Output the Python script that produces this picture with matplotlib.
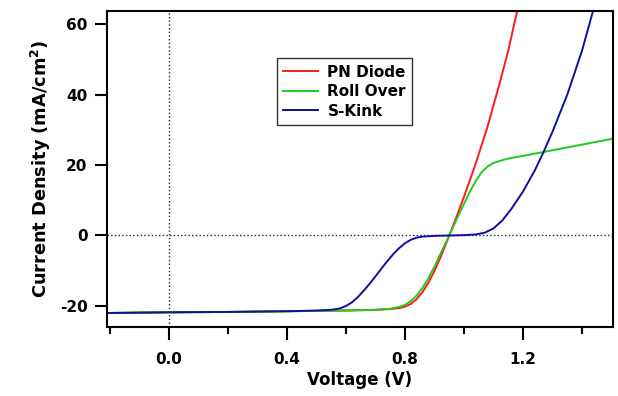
import numpy as np
import matplotlib.pyplot as plt
from matplotlib.ticker import MultipleLocator

plt.rcParams['font.family'] = ['DejaVu Sans']
plt.rcParams['font.weight'] = 'bold'
plt.rcParams['axes.unicode_minus'] = False

# J-V curves (V in volts, J in mA/cm^2)
pn_v = [-0.21, 0.0, 0.2, 0.4, 0.6, 0.7, 0.75, 0.78, 0.80, 0.82, 0.84, 0.86, 0.88,
        0.90, 0.92, 0.95, 0.98, 1.00, 1.04, 1.08, 1.12, 1.15, 1.18]
pn_j = [-22.0, -21.8, -21.7, -21.5, -21.3, -21.1, -20.9, -20.6, -20.2, -19.4, -18.0, -16.0, -13.3,
        -10.0, -6.3, 0.0, 6.5, 11.0, 20.5, 31.0, 43.0, 52.5, 63.7]

ro_v = [-0.21, 0.0, 0.2, 0.4, 0.6, 0.7, 0.75, 0.78, 0.80, 0.82, 0.84, 0.86, 0.88,
        0.90, 0.92, 0.95, 0.98, 1.00, 1.02, 1.04, 1.06, 1.08, 1.10, 1.13, 1.16,
        1.20, 1.30, 1.40, 1.505]
ro_j = [-22.0, -21.8, -21.7, -21.5, -21.3, -21.1, -20.8, -20.3, -19.7, -18.6, -17.0, -14.8, -12.0,
        -8.8, -5.2, 0.0, 5.5, 9.0, 12.5, 15.5, 18.0, 19.6, 20.6, 21.4, 22.0,
        22.6, 24.2, 25.8, 27.5]

sk_v = [-0.21, 0.0, 0.2, 0.4, 0.5, 0.55, 0.58, 0.60, 0.62, 0.64, 0.66, 0.68, 0.70,
        0.72, 0.74, 0.76, 0.78, 0.80, 0.82, 0.84, 0.86, 0.90, 0.95, 1.00, 1.04,
        1.07, 1.10, 1.13, 1.16, 1.20, 1.24, 1.27, 1.30, 1.35, 1.40, 1.437]
sk_j = [-22.0, -21.8, -21.7, -21.5, -21.3, -21.1, -20.7, -20.0, -19.0, -17.5, -15.7, -13.7, -11.6,
        -9.4, -7.3, -5.3, -3.6, -2.2, -1.2, -0.6, -0.3, -0.1, 0.0, 0.1, 0.3,
        0.8, 2.0, 4.3, 7.5, 12.5, 18.5, 23.8, 29.5, 40.0, 52.5, 63.7]

fig = plt.figure(figsize=(6.18, 3.96), dpi=100)
ax = fig.add_axes([0.173, 0.174, 0.819, 0.798])

ax.axvline(0, color='#222222', linestyle=':', linewidth=1)
ax.axhline(0, color='#222222', linestyle=':', linewidth=1)

ax.plot(pn_v, pn_j, color='#ff1a1a', linewidth=1.4, label='PN Diode')
ax.plot(ro_v, ro_j, color='#1ecc1e', linewidth=1.4, label='Roll Over')
ax.plot(sk_v, sk_j, color='#10109a', linewidth=1.4, label='S-Kink')

ax.set_xlim(-0.21, 1.505)
ax.set_ylim(-26, 63.7)
ax.xaxis.set_major_locator(MultipleLocator(0.4))
ax.xaxis.set_minor_locator(MultipleLocator(0.2))
ax.yaxis.set_major_locator(MultipleLocator(20))
ax.xaxis.set_major_formatter(plt.FormatStrFormatter('%.1f'))

for s in ax.spines.values():
    s.set_linewidth(1.5)
ax.tick_params(which='major', direction='out', length=9, width=1.5, labelsize=11)
ax.tick_params(axis='x', which='major', pad=9)
ax.tick_params(axis='y', which='major', pad=5)
ax.tick_params(which='minor', direction='out', length=5, width=1.5)

ax.set_xlabel('Voltage (V)', fontsize=12, fontweight='bold', labelpad=3)
ax.set_ylabel('Current Density (mA/cm$^\\mathbf{2}$)', fontsize=12.8, fontweight='bold', labelpad=5)

leg = ax.legend(loc='upper left', bbox_to_anchor=(0.336, 0.85), fontsize=11, frameon=True,
                fancybox=False, edgecolor='black', handlelength=2.3, borderpad=0.4,
                labelspacing=0.3, handletextpad=0.6, borderaxespad=0)
leg.get_frame().set_linewidth(1.0)

plt.savefig('out.png', dpi=100)
